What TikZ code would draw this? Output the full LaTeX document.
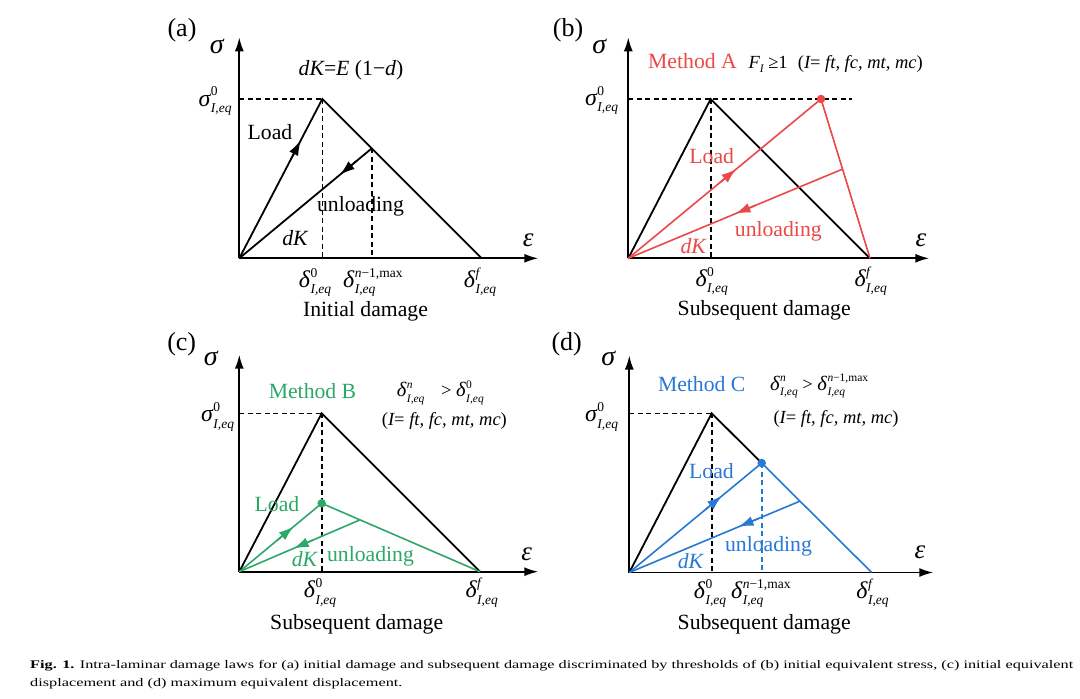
\documentclass[tikz,border=0pt]{standalone}
\usepackage{fontspec}
\usepackage{graphicx}
\setmainfont{Liberation Serif}
\usetikzlibrary{arrows.meta,calc}
\definecolor{cA}{RGB}{236,72,72}
\definecolor{cB}{RGB}{44,168,104}
\definecolor{cC}{RGB}{40,120,214}
\newcommand\myL{\fontsize{21.7}{26}\selectfont}
\newcommand\myS{\fontsize{13.5}{15}\selectfont}
\newcommand\myF{\fontsize{18.5}{22}\selectfont}
\newcommand\myFs{\fontsize{11.5}{13}\selectfont}
\newcommand\myStk[2]{%
  \setbox0\hbox{#1}\setbox2\hbox{#2}%
  \ifdim\wd0>\wd2 \dimen0=\wd0 \else \dimen0=\wd2 \fi
  \rlap{\raise0.42em\copy0}\rlap{\lower0.27em\copy2}\kern\dimen0\relax}
\newcommand\mySym[3]{{\fontsize{24}{28}\selectfont{\itshape #1}\kern0.5pt\myStk{\myS #2}{\myS #3}}}
\newcommand\mySymF[3]{{\fontsize{20.5}{24}\selectfont{\itshape #1}\kern0.5pt\myStk{\myFs #2}{\myFs #3}}}
\newcommand\mySigZ{\mySym{σ}{0}{\itshape I,eq}}
\newcommand\myDelZ{\mySym{δ}{0}{\itshape I,eq}}
\newcommand\myDelF{\mySym{δ}{\itshape f}{\itshape I,eq}}
\newcommand\myDelM{\mySym{δ}{{\itshape n}−1,max}{\itshape I,eq}}
\newcommand\myIset{({\itshape I}= {\itshape ft, fc, mt, mc})}
\newcommand\myTip[4][]{\coordinate (tmpT) at ($(#2)!#4!(#3)$);
  \draw[tip,#1] ($(tmpT)!22pt!(#2)$) -- (tmpT);}
\newsavebox\myCapBox
\begin{document}
\sbox\myCapBox{\fontsize{11.6}{14}\selectfont\textbf{Fig. 1.} Intra-laminar damage laws for (a) initial damage and subsequent damage discriminated by thresholds of (b) initial equivalent stress, (c) initial equivalent}%
\pgfmathsetmacro\myCapSx{1043/\the\wd\myCapBox}%
\begin{tikzpicture}[x=1pt,y=-1pt,
  ax/.style={line width=1.8pt,-{Latex[length=14pt,width=9pt]}},
  crv/.style={line width=1.8pt,line join=miter},
  ccrv/.style={line width=1.6pt,line join=miter},
  dsh/.style={line width=1.6pt,dash pattern=on 5pt off 3.5pt},
  tip/.style={line width=1.6pt,-{Latex[length=15pt,width=10pt]}},
  lab/.style={font=\myL,inner sep=0pt,anchor=base},
  frm/.style={font=\myF,inner sep=0pt,anchor=base west},
  plab/.style={font=\fontsize{26}{30}\selectfont,inner sep=0pt,anchor=base},
  axl/.style={font=\fontsize{28}{32}\selectfont\itshape,inner sep=0pt,anchor=base},
  dot/.style={circle,inner sep=0pt,minimum size=8.5pt}
]
\fill[white] (0,0) rectangle (1080,699);
\path[use as bounding box] (0,0) rectangle (1080,699);

%% ---------------- panel (a)
\begin{scope}[shift={(239.3,258.3)}]
\coordinate (aO) at (0,0);
\coordinate (aY) at (0,-221);
\coordinate (aX) at (299,0);
\coordinate (aP) at (83,-159.3);
\coordinate (aF) at (242.4,0);
\coordinate (aU) at ($(aP)!0.31!(aF)$);
\coordinate (aPs) at (0,-159.3);
\coordinate (aPd) at (83,0);
\coordinate (aUd) at (aU |- aO);
\draw[dsh] (aPs) -- (aP);
\draw[dsh] (aP) -- (aPd);
\draw[dsh] (aU) -- (aUd);
\draw[ax] (aO) -- (aY);
\draw[ax] (aO) -- (aX);
\draw[crv] (aO) -- (aP) -- (aF);
\draw[crv] (aU) -- (aO);
\myTip{aO}{aP}{0.74}
\myTip{aU}{aO}{0.24}
\node[plab] (aLab) at (-57.3,-222.3) {(a)};
\node[axl] (aSig) at (-22.6,-205) {σ};
\node[axl,font=\fontsize{27}{30}\selectfont\itshape] (aEps) at (289,-11.6) {ε};
\node[lab] (aEq) at (111.7,-183.3) {{\itshape dK}={\itshape E} (1−{\itshape d})};
\node[lab,anchor=base east] (aS0) at (-7.6,-152.3) {\mySigZ};
\node[lab] (aLoad) at (30.7,-119) {Load};
\node[lab] (aUnl) at (121.2,-46.6) {unloading};
\node[lab] (adK) at (55.7,-13.3) {\itshape dK};
\node[lab] (aD0) at (75.7,29) {\myDelZ};
\node[lab] (aDm) at (133.5,29) {\myDelM};
\node[lab] (aDf) at (240.7,29) {\myDelF};
\node[lab] (aTit) at (126.2,58.4) {Initial damage};
\end{scope}

%% ---------------- panel (b)
\begin{scope}[shift={(628.3,258.3)}]
\coordinate (bO) at (0,0);
\coordinate (bY) at (0,-221);
\coordinate (bX) at (301,0);
\coordinate (bP) at (82.4,-159.3);
\coordinate (bF) at (241.7,0);
\coordinate (bR) at (192.7,-159.3);
\coordinate (bU) at ($(bR)!0.44!(bF)$);
\coordinate (bPs) at (0,-159.3);
\coordinate (bHe) at (223.4,-159.3);
\coordinate (bPd) at (82.4,0);
\draw[dsh] (bPs) -- (bHe);
\draw[dsh] (bP) -- (bPd);
\draw[ax] (bO) -- (bY);
\draw[ax] (bO) -- (bX);
\draw[crv] (bO) -- (bP) -- (bF);
\draw[ccrv,cA] (bO) -- (bR) -- (bF);
\draw[ccrv,cA] (bU) -- (bO);
\myTip[cA]{bO}{bR}{0.56}
\myTip[cA]{bU}{bO}{0.50}
\node[dot,fill=cA] (bDot) at (bR) {};
\node[plab] (bLab) at (-60.3,-221.6) {(b)};
\node[axl] (bSig) at (-29,-205) {σ};
\node[axl,font=\fontsize{27}{30}\selectfont\itshape] (bEps) at (292.7,-11.6) {ε};
\node[lab,text=cA] (bMeth) at (64.2,-190) {Method A};
\node[frm] (bCond) at (120,-190) {{\itshape F}\raisebox{-0.25em}{\myFs\itshape I} ≥1\hspace{0.55em}\myIset};
\node[lab,anchor=base east] (bS0) at (-10,-153) {\mySigZ};
\node[lab,text=cA] (bLoad) at (83.4,-95) {Load};
\node[lab,text=cA] (bUnl) at (150,-22.3) {unloading};
\node[lab,text=cA] (bdK) at (65,-5) {\itshape dK};
\node[lab] (bD0) at (83.4,28) {\myDelZ};
\node[lab] (bDf) at (242.4,28) {\myDelF};
\node[lab] (bTit) at (135.9,57) {Subsequent damage};
\end{scope}

%% ---------------- panel (c)
\begin{scope}[shift={(239.3,571.7)}]
\coordinate (cO) at (0,0);
\coordinate (cY) at (0,-217);
\coordinate (cX) at (299,0);
\coordinate (cP) at (82.4,-158.4);
\coordinate (cF) at (240.7,0);
\coordinate (cG) at (82.4,-68.4);
\coordinate (cU) at ($(cG)!0.242!(cF)$);
\coordinate (cPs) at (0,-158.4);
\coordinate (cPd) at (82.4,0);
\draw[dsh] (cPs) -- (cP);
\draw[dsh] (cP) -- (cPd);
\draw[ax] (cO) -- (cY);
\draw[ax] (cO) -- (cX);
\draw[crv] (cO) -- (cP) -- (cF);
\draw[ccrv,cB] (cO) -- (cG) -- (cF);
\draw[ccrv,cB] (cU) -- (cO);
\myTip[cB]{cO}{cG}{0.66}
\myTip[cB]{cU}{cO}{0.55}
\node[dot,fill=cB] (cDot) at (cG) {};
\node[plab] (cLab) at (-57.6,-221.7) {(c)};
\node[axl] (cSig) at (-28.5,-206.7) {σ};
\node[axl,font=\fontsize{27}{30}\selectfont\itshape] (cEps) at (287.4,-11.7) {ε};
\node[lab,text=cB] (cMeth) at (73.2,-173.4) {Method B};
\node[frm] (cCond) at (157.4,-175) {\mySymF{δ}{\itshape n}{\itshape I,eq}\hspace{0.9em}> \mySymF{δ}{0}{\itshape I,eq}};
\node[frm] (cIset) at (142.4,-146.7) {\myIset};
\node[lab,anchor=base east] (cS0) at (-5,-150) {\mySigZ};
\node[lab,text=cB] (cLoad) at (37.7,-60) {Load};
\node[lab,text=cB] (cUnl) at (131.2,-10) {unloading};
\node[lab,text=cB] (cdK) at (65.2,-5) {\itshape dK};
\node[lab] (cD0) at (80.7,26) {\myDelZ};
\node[lab] (cDf) at (242.4,26) {\myDelF};
\node[lab] (cTit) at (117.4,58) {Subsequent damage};
\end{scope}

%% ---------------- panel (d)
\begin{scope}[shift={(629.3,572.5)}]
\coordinate (dO) at (0,0);
\coordinate (dY) at (0,-217);
\coordinate (dX) at (304,0);
\coordinate (dP) at (82.4,-159.2);
\coordinate (dF) at (242.4,0);
\coordinate (dB) at ($(dP)!0.3125!(dF)$);
\coordinate (dU) at ($(dB)!0.348!(dF)$);
\coordinate (dPs) at (0,-159.2);
\coordinate (dPd) at (82.4,0);
\coordinate (dBd) at (dB |- dO);
\draw[dsh] (dPs) -- (dP);
\draw[dsh] (dP) -- (dPd);
\draw[dsh,cC] (dB) -- (dBd);
\draw[ax] (dO) -- (dY);
\draw[ax] (dO) -- (dX);
\draw[crv] (dO) -- (dP) -- (dB);
\draw[ccrv,cC] (dO) -- (dB) -- (dF);
\draw[ccrv,cC] (dU) -- (dO);
\myTip[cC]{dO}{dB}{0.70}
\myTip[cC]{dU}{dO}{0.36}
\node[dot,fill=cC] (dDot) at (dB) {};
\node[plab] (dLab) at (-62.6,-222.5) {(d)};
\node[axl] (dSig) at (-21,-207.5) {σ};
\node[axl,font=\fontsize{27}{30}\selectfont\itshape] (dEps) at (290.7,-14) {ε};
\node[lab,text=cC] (dMeth) at (72.4,-180.8) {Method C};
\node[frm] (dCond) at (140.7,-182.5) {\mySymF{δ}{\itshape n}{\itshape I,eq} > \mySymF{δ}{{\itshape n}−1,max}{\itshape I,eq}};
\node[frm] (dIset) at (144,-149) {\myIset};
\node[lab,anchor=base east] (dS0) at (-11,-150.8) {\mySigZ};
\node[lab,text=cC] (dLoad) at (82.2,-94.2) {Load};
\node[lab,text=cC] (dUnl) at (139.2,-20.8) {unloading};
\node[lab,text=cC] (ddK) at (61.2,-4.2) {\itshape dK};
\node[lab] (dD0) at (80.7,26) {\myDelZ};
\node[lab] (dDm) at (131.5,26) {\myDelM};
\node[lab] (dDf) at (243.2,26) {\myDelF};
\node[lab] (dTit) at (134.9,57) {Subsequent damage};
\end{scope}

%% ---------------- caption
\node[inner sep=0pt,anchor=base west] (cap1) at (30,668.3) {\scalebox{\myCapSx}[1]{\usebox\myCapBox}};
\node[inner sep=0pt,anchor=base west] (cap2) at (30,686.7) {\scalebox{\myCapSx}[1]{\fontsize{11.6}{14}\selectfont displacement and (d) maximum equivalent displacement.}};
\end{tikzpicture}
\end{document}
